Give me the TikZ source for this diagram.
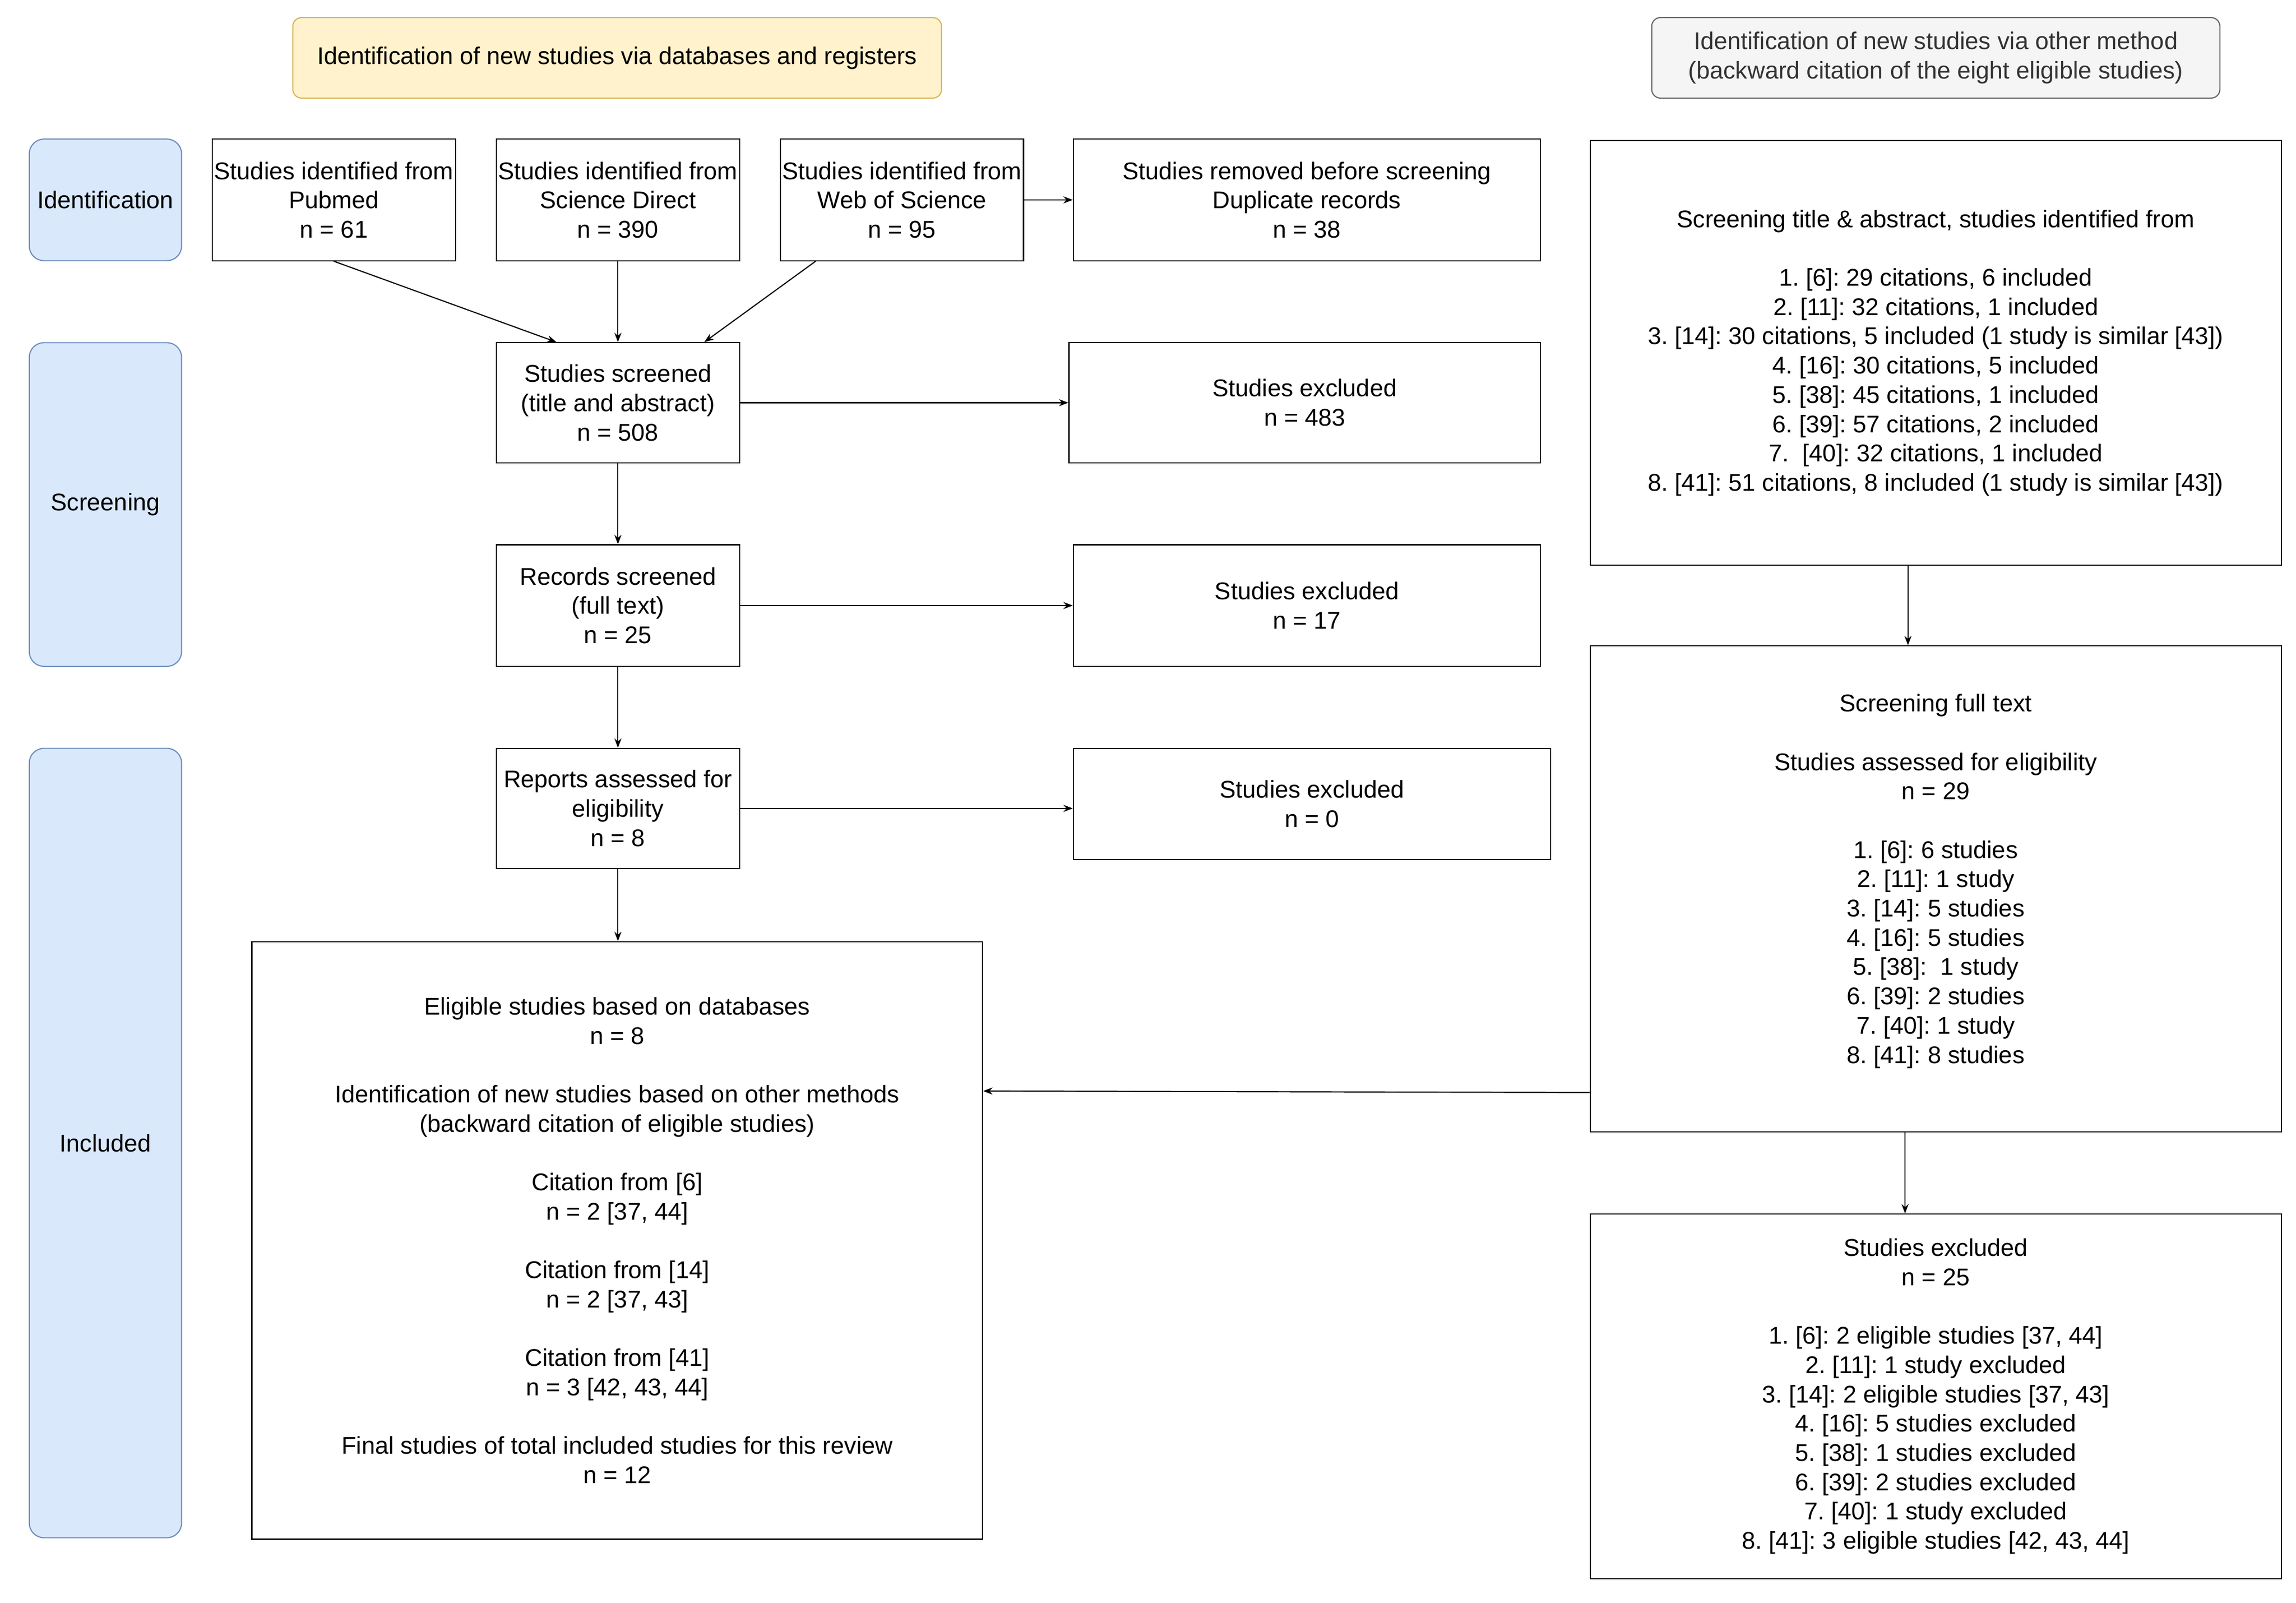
\documentclass[tikz,border=0pt]{standalone}
\usepackage{fontspec}
\setmainfont{Liberation Sans}
\usetikzlibrary{arrows.meta,calc}
\definecolor{phasefill}{HTML}{DAE8FC}
\definecolor{phaseline}{HTML}{6C8EBF}
\definecolor{yelfill}{HTML}{FFF2CC}
\definecolor{yelline}{HTML}{D6B656}
\definecolor{greyfill}{HTML}{F5F5F5}
\definecolor{greyline}{HTML}{666666}
\definecolor{greytext}{HTML}{333333}
\newcommand{\mainf}{\fontsize{23.5}{28.45}\selectfont\frenchspacing}
\newcommand{\bl}{\\[28.45pt]}
\begin{document}
\begin{tikzpicture}[x=0.5mm,y=-0.5mm,
  sz/.style 2 args={minimum width=#1*0.5mm, minimum height=#2*0.5mm},
  box/.style={draw=black, line width=1.1pt, fill=white, inner sep=0pt, align=center, font=\mainf},
  phase/.style={draw=phaseline, fill=phasefill, line width=1.1pt, rounded corners=5mm, inner sep=0pt, align=center, font=\mainf},
  ybox/.style={draw=yelline, fill=yelfill, line width=1.1pt, rounded corners=3mm, inner sep=0pt, align=center, font=\mainf},
  gbox/.style={draw=greyline, fill=greyfill, line width=1.1pt, rounded corners=3mm, inner sep=0pt, align=center, font=\mainf, text=greytext},
  arr/.style={draw=black, line width=1.1pt, -{Stealth[length=3.2mm,width=2.4mm]}}
]
\useasboundingbox[fill=white] (0,0) rectangle (1568,1094.3);

% headers
\node[ybox, sz={443}{55}] (hdrA) at (421.5,39.5) {Identification of new studies via databases and registers};
\node[gbox, sz={388}{55}] (hdrB) at (1322,39.5) {Identification of new studies via other method\\(backward citation of the eight eligible studies)};

% phases
\node[phase, sz={104}{83}] (phI) at (72,136.5) {Identification};
\node[phase, sz={104}{221}] (phS) at (72,344.5) {Screening};
\node[phase, sz={104}{539}] (phN) at (72,780.5) {Included};

% identification row
\node[box, sz={166}{83}] (pub) at (228,136.5) {Studies identified from\\Pubmed\\n = 61};
\node[box, sz={166}{83}] (sd) at (422,136.5) {Studies identified from\\Science Direct\\n = 390};
\node[box, sz={166}{83}] (wos) at (616,136.5) {Studies identified from\\Web of Science\\n = 95};
\node[box, sz={319}{83}] (rem) at (892.5,136.5) {Studies removed before screening\\Duplicate records\\n = 38};

% screening
\node[box, sz={166}{82}] (scr) at (422,275) {Studies screened\\(title and abstract)\\n = 508};
\node[box, sz={322}{82}] (ex1) at (891,275) {Studies excluded\\n = 483};
\node[box, sz={166}{83}] (rec) at (422,413.5) {Records screened\\(full text)\\n = 25};
\node[box, sz={319}{83}] (ex2) at (892.5,413.5) {Studies excluded\\n = 17};

% included
\node[box, sz={166}{82}] (rep) at (422,552) {Reports assessed for\\eligibility\\n = 8};
\node[box, sz={326}{76}] (ex3) at (896,549) {Studies excluded\\n = 0};
\node[box, sz={499}{408}] (elig) at (421.5,847) {Eligible studies based on databases\\n = 8\bl
Identification of new studies based on other methods\\(backward citation of eligible studies)\bl
Citation from [6]\\n = 2 [37, 44]\bl
Citation from [14]\\n = 2 [37, 43]\bl
Citation from [41]\\n = 3 [42, 43, 44]\bl
Final studies of total included studies for this review\\n = 12};

% right column
\node[box, sz={472}{290}] (r1) at (1322,241) {Screening title \& abstract, studies identified from\bl
1. [6]: 29 citations, 6 included\\
2. [11]: 32 citations, 1 included\\
3. [14]: 30 citations, 5 included (1 study is similar [43])\\
4. [16]: 30 citations, 5 included\\
5. [38]: 45 citations, 1 included\\
6. [39]: 57 citations, 2 included\\
7.\ \ [40]: 32 citations, 1 included\\
8. [41]: 51 citations, 8 included (1 study is similar [43])};
\node[box, sz={472}{332}] (r2) at (1322,607) {Screening full text\bl
Studies assessed for eligibility\\n = 29\bl
1. [6]: 6 studies\\
2. [11]: 1 study\\
3. [14]: 5 studies\\
4. [16]: 5 studies\\
5. [38]:\ \ 1 study\\
6. [39]: 2 studies\\
7. [40]: 1 study\\
8. [41]: 8 studies\\[-8.5pt]\mbox{}};
\node[box, sz={472}{249}] (r3) at (1322,953.5) {Studies excluded\\n = 25\bl
1. [6]: 2 eligible studies [37, 44]\\
2. [11]: 1 study excluded\\
3. [14]: 2 eligible studies [37, 43]\\
4. [16]: 5 studies excluded\\
5. [38]: 1 studies excluded\\
6. [39]: 2 studies excluded\\
7. [40]: 1 study excluded\\
8. [41]: 3 eligible studies [42, 43, 44]};

% connectors
\draw[arr] (pub.south) -- ($(scr.north)+(-42,0)$);
\draw[arr] (sd.south) -- (scr.north);
\draw[arr] ($(wos.south)+(-59,0)$) -- ($(scr.north)+(59,0)$);
\draw[arr] (wos.east) -- (rem.west);
\draw[arr] (scr.east) -- (ex1.west |- scr.east);
\draw[arr] (scr.south) -- (rec.north);
\draw[arr] (rec.east) -- (ex2.west |- rec.east);
\draw[arr] (rec.south) -- (rep.north);
\draw[arr] (rep.east) -- (ex3.west |- rep.east);
\draw[arr] (rep.south) -- (rep.south |- elig.north);
\draw[arr] ($(r1.south)+(-19,0)$) -- ($(r2.north)+(-19,0)$);
\draw[arr] ($(r2.west)+(0,139)$) -- ($(elig.east)+(0,-102)$);
\draw[arr] ($(r2.south)+(-21,0)$) -- ($(r3.north)+(-21,0)$);
\end{tikzpicture}
\end{document}
